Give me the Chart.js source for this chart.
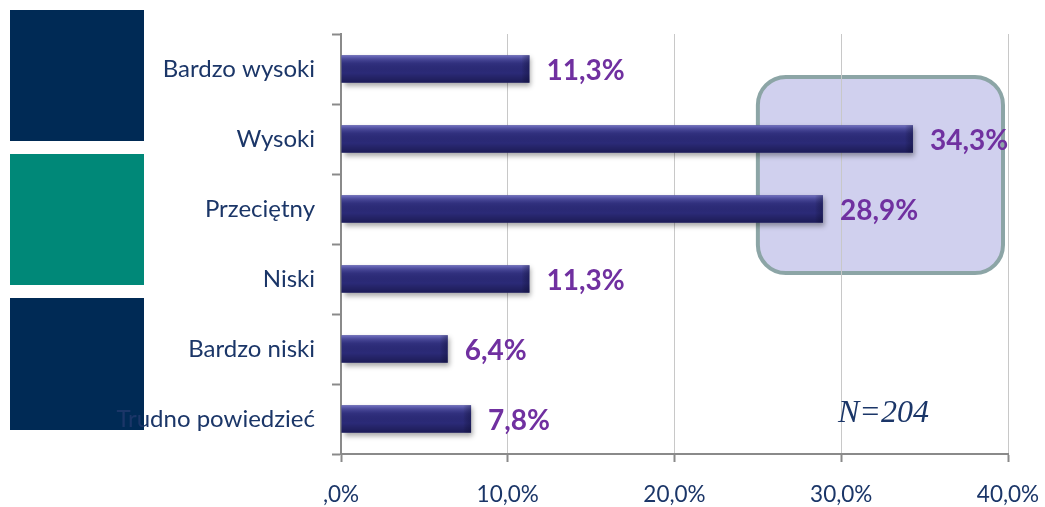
<!DOCTYPE html>
<html><head><meta charset="utf-8">
<script src="https://cdn.jsdelivr.net/npm/chart.js@4"></script>
<style>html,body{margin:0;padding:0;background:#fff;overflow:hidden}#wrap{width:1045px;height:507px;position:relative}</style>
</head><body><div id="wrap"><canvas id="c" width="1045" height="507"></canvas></div>
<script>
const categories = ['Bardzo wysoki','Wysoki','Przeciętny','Niski','Bardzo niski','Trudno powiedzieć'];
const values = [11.3, 34.3, 28.9, 11.3, 6.4, 7.8];
const xTickLabels = [',0%','10,0%','20,0%','30,0%','40,0%'];
const noteText = 'N=204';

const NAVY = '#1B3668';
const FONT = 'Lato, "Open Sans", sans-serif';

const decor = {
  id: 'decor',
  beforeDraw(chart) {
    const ctx = chart.ctx;
    ctx.save();
    ctx.fillStyle = '#ffffff';
    ctx.fillRect(0, 0, chart.width, chart.height);
    // side blocks
    ctx.fillStyle = '#002A55';
    ctx.fillRect(10, 10, 134, 131);
    ctx.fillStyle = '#008878';
    ctx.fillRect(10, 154, 134, 131);
    ctx.fillStyle = '#002A55';
    ctx.fillRect(10, 298, 134, 132);
    // highlight box
    const xs = chart.scales.x;
    const x0 = xs.getPixelForValue(25), x1 = xs.getPixelForValue(39.7);
    const y0 = 77, y1 = 273, r = 28;
    ctx.beginPath();
    ctx.roundRect(x0, y0, x1 - x0, y1 - y0, r);
    ctx.fillStyle = '#D0D0EE';
    ctx.fill();
    ctx.lineWidth = 4;
    ctx.strokeStyle = '#8CA5A6';
    ctx.stroke();
    ctx.restore();
  },
  beforeDatasetsDraw(chart) {
    const ctx = chart.ctx;
    ctx.save();
    ctx.shadowColor = 'rgba(0,0,0,0.35)';
    ctx.shadowBlur = 5;
    ctx.shadowOffsetX = 2;
    ctx.shadowOffsetY = 3;
  },
  afterDatasetsDraw(chart) {
    const ctx = chart.ctx;
    ctx.restore();
    const meta = chart.getDatasetMeta(0);
    meta.data.forEach((bar, i) => {
      const left = Math.min(bar.base, bar.x), right = Math.max(bar.base, bar.x);
      const top = bar.y - bar.height / 2, h = bar.height;
      const g = ctx.createLinearGradient(0, top, 0, top + h);
      g.addColorStop(0, 'rgba(140,140,220,0.75)');
      g.addColorStop(0.12, 'rgba(120,120,200,0.45)');
      g.addColorStop(0.3, 'rgba(90,90,170,0.12)');
      g.addColorStop(0.65, 'rgba(0,0,0,0)');
      g.addColorStop(1, 'rgba(0,0,30,0.35)');
      ctx.save();
      ctx.fillStyle = g;
      ctx.fillRect(left, top, right - left, h);
      // right bevel
      const gr = ctx.createLinearGradient(right - 8, 0, right, 0);
      gr.addColorStop(0, 'rgba(0,0,0,0)');
      gr.addColorStop(1, 'rgba(10,10,50,0.35)');
      ctx.fillStyle = gr;
      ctx.fillRect(right - 8, top, 8, h);
      ctx.restore();
      // value label
      const v = chart.data.datasets[0].data[i];
      ctx.save();
      ctx.font = 'bold 28px ' + FONT;
      ctx.fillStyle = '#7030A0';
      ctx.textAlign = 'left';
      ctx.textBaseline = 'middle';
      ctx.fillText(v.toFixed(1).replace('.', ',') + '%', right + 17, bar.y + 2);
      ctx.restore();
    });
    // note
    ctx.save();
    ctx.font = 'italic 32px "Liberation Serif", "Times New Roman", serif';
    ctx.fillStyle = NAVY;
    ctx.textAlign = 'left';
    ctx.textBaseline = 'alphabetic';
    ctx.fillText(noteText, 838, 422);
    ctx.restore();
  }
};

new Chart(document.getElementById('c'), {
  type: 'bar',
  data: {
    labels: categories,
    datasets: [{
      data: values,
      backgroundColor: '#2B2A78',
      borderWidth: 0,
      categoryPercentage: 1,
      barPercentage: 0.39
    }]
  },
  plugins: [decor],
  options: {
    indexAxis: 'y',
    responsive: false,
    animation: false,
    devicePixelRatio: 1,
    layout: { padding: { top: 34, right: 37, left: 0, bottom: 0 } },
    plugins: { legend: { display: false }, tooltip: { enabled: false } },
    scales: {
      x: {
        min: 0, max: 40,
        ticks: {
          stepSize: 10,
          color: NAVY,
          font: { family: FONT, size: 22.5 },
          padding: 19,
          callback: (v, i) => xTickLabels[i]
        },
        grid: { color: '#C8C8C8', lineWidth: 1, tickLength: 8, tickColor: '#8A8A8A', tickWidth: 2 },
        border: { color: '#8A8A8A', width: 2 },
        afterFit(s) { s.height = 53; s.paddingLeft = 0; s.paddingRight = 0; }
      },
      y: {
        ticks: {
          color: NAVY,
          font: { family: FONT, size: 24 },
          padding: 17
        },
        grid: { drawOnChartArea: false, tickLength: 9, tickColor: '#8A8A8A', tickWidth: 2, offset: true },
        border: { color: '#8A8A8A', width: 2 },
        afterFit(s) { s.width = 341; s.paddingTop = 0; s.paddingBottom = 0; }
      }
    }
  }
});
</script>
</body></html>
